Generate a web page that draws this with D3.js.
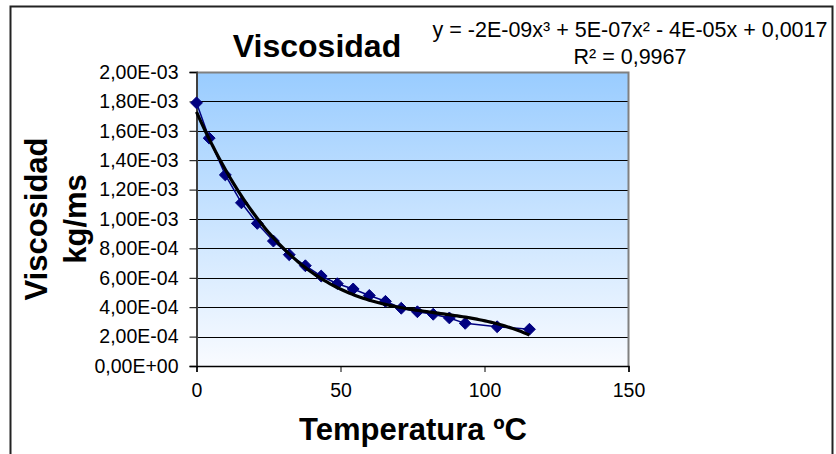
<!DOCTYPE html>
<html>
<head>
<meta charset="utf-8">
<script src="https://cdn.jsdelivr.net/npm/d3@7"></script>
<style>
  html, body { margin: 0; padding: 0; background: #fff; }
  svg { display: block; }
  text { font-family: "Liberation Sans", Arial, sans-serif; fill: #000; }
</style>
</head>
<body>
<svg id="chart" width="836" height="454"></svg>
<script>
// ---- Data ----
const temperatures = [0, 4.4, 10, 15.6, 21.1, 26.7, 32.2, 37.8, 43.3, 48.9, 54.4, 60, 65.6, 71.1, 76.7, 82.2, 87.8, 93.3, 104.4, 115.6];
const viscosity = [1.79e-3, 1.55e-3, 1.30e-3, 1.11e-3, 0.97e-3, 0.85e-3, 0.757e-3, 0.682e-3, 0.612e-3, 0.56e-3, 0.524e-3, 0.48e-3, 0.44e-3, 0.393e-3, 0.369e-3, 0.352e-3, 0.327e-3, 0.29e-3, 0.267e-3, 0.25e-3];
const xTicks = [0, 50, 100, 150];
const yTicks = [0, 0.0002, 0.0004, 0.0006, 0.0008, 0.0010, 0.0012, 0.0014, 0.0016, 0.0018, 0.0020];
const chartTitle = "Viscosidad";
const xTitle = "Temperatura ºC";
const yTitleLines = ["Viscosidad", "kg/ms"];
const equationLines = ["y = -2E-09x³ + 5E-07x² - 4E-05x + 0,0017", "R² = 0,9967"];

// ---- Layout ----
const svg = d3.select("#chart");
const plot = { left: 196.5, right: 628.5, top: 72, bottom: 366 };

svg.append("rect").attr("x", 0).attr("y", 0).attr("width", 836).attr("height", 454).attr("fill", "#fff");
// outer chart border
svg.append("rect").attr("x", 10.5).attr("y", 6.5).attr("width", 822).attr("height", 460)
  .attr("fill", "none").attr("stroke", "#222").attr("stroke-width", 2);

const x = d3.scaleLinear().domain([0, 150]).range([plot.left, plot.right]);
const y = d3.scaleLinear().domain([0, 0.002]).range([plot.bottom, plot.top]);

// gradient background
const defs = svg.append("defs");
const grad = defs.append("linearGradient").attr("id", "bg").attr("x1", 0).attr("y1", 0).attr("x2", 0).attr("y2", 1);
grad.append("stop").attr("offset", "0%").attr("stop-color", "#99ccff");
grad.append("stop").attr("offset", "100%").attr("stop-color", "#f9fbff");

svg.append("rect").attr("x", plot.left).attr("y", plot.top)
  .attr("width", plot.right - plot.left).attr("height", plot.bottom - plot.top)
  .attr("fill", "url(#bg)");

// gridlines
svg.append("g").selectAll("line").data(yTicks.filter(d => d > 0 && d < 0.002)).join("line")
  .attr("x1", plot.left).attr("x2", plot.right)
  .attr("y1", d => Math.round(y(d)) + 0.5).attr("y2", d => Math.round(y(d)) + 0.5)
  .attr("stroke", "#000").attr("stroke-width", 1);

// plot border (top & right gray)
svg.append("path")
  .attr("d", `M${plot.left},${plot.top + 0.5}H${plot.right}V${plot.bottom}`)
  .attr("fill", "none").attr("stroke", "#808080").attr("stroke-width", 2);

function sciFmt(v) {
  if (v === 0) return "0,00E+00";
  let e = Math.floor(Math.log10(v) + 1e-9);
  let m = v / Math.pow(10, e);
  if (Math.round(m * 100) / 100 >= 10) { m /= 10; e += 1; }
  const sign = e < 0 ? "-" : "+";
  const ae = Math.abs(e);
  return m.toFixed(2).replace(".", ",") + "E" + sign + (ae < 10 ? "0" + ae : ae);
}

// y axis
const yAxis = d3.axisLeft(y).tickValues(yTicks).tickFormat(sciFmt).tickSize(7).tickPadding(11);
const gy = svg.append("g").attr("transform", `translate(${plot.left},0)`).call(yAxis);
gy.select(".domain").attr("stroke", "#404040").attr("stroke-width", 2);
gy.selectAll(".tick line").attr("stroke", "#000");
gy.selectAll(".tick text").attr("font-size", 19.5).attr("font-family", "Liberation Sans, Arial, sans-serif").attr("fill", "#000");

// x axis
const xAxis = d3.axisBottom(x).tickValues(xTicks).tickFormat(d3.format("d")).tickSize(6).tickPadding(11);
const gx = svg.append("g").attr("transform", `translate(0,${plot.bottom})`).call(xAxis);
gx.select(".domain").attr("stroke", "#000").attr("stroke-width", 1.5);
gx.selectAll(".tick line").attr("stroke", "#000");
gx.selectAll(".tick text").attr("font-size", 19.5).attr("font-family", "Liberation Sans, Arial, sans-serif").attr("fill", "#000");

// series line + markers
const pts = temperatures.map((t, i) => [t, viscosity[i]]);
svg.append("path").datum(pts)
  .attr("d", d3.line().x(d => x(d[0])).y(d => y(d[1])))
  .attr("fill", "none").attr("stroke", "#000080").attr("stroke-width", 1.5);

const sym = d3.symbol().type(d3.symbolDiamond2).size(90);
svg.append("g").selectAll("path").data(pts).join("path")
  .attr("transform", d => `translate(${x(d[0])},${y(d[1])})`)
  .attr("d", sym).attr("fill", "#000080").attr("stroke", "#000080").attr("stroke-width", 1);

// cubic least squares trendline computed from data
function polyfit(xs, ys, deg) {
  const n = deg + 1;
  const A = Array.from({length: n}, () => new Array(n + 1).fill(0));
  for (let k = 0; k < xs.length; k++) {
    for (let i = 0; i < n; i++) {
      for (let j = 0; j < n; j++) A[i][j] += Math.pow(xs[k], i + j);
      A[i][n] += ys[k] * Math.pow(xs[k], i);
    }
  }
  for (let c = 0; c < n; c++) {
    let p = c;
    for (let r = c + 1; r < n; r++) if (Math.abs(A[r][c]) > Math.abs(A[p][c])) p = r;
    [A[c], A[p]] = [A[p], A[c]];
    for (let r = 0; r < n; r++) {
      if (r === c) continue;
      const f = A[r][c] / A[c][c];
      for (let j = c; j <= n; j++) A[r][j] -= f * A[c][j];
    }
  }
  return A.map((row, i) => row[n] / row[i]);
}
const coef = polyfit(temperatures, viscosity, 3);
const fx = t => coef[0] + coef[1] * t + coef[2] * t * t + coef[3] * t * t * t;
const xMin = d3.min(temperatures), xMax = d3.max(temperatures);
const trend = d3.range(0, 121).map(i => xMin + (xMax - xMin) * i / 120).map(t => [t, fx(t)]);
svg.append("path").datum(trend)
  .attr("d", d3.line().x(d => x(d[0])).y(d => y(d[1])))
  .attr("fill", "none").attr("stroke", "#000").attr("stroke-width", 3.2)
  .attr("stroke-linejoin", "round");

// titles
svg.append("text").attr("x", 317).attr("y", 57).attr("text-anchor", "middle")
  .attr("font-size", 32).attr("font-weight", "bold").text(chartTitle);
svg.append("text").attr("x", 413).attr("y", 440).attr("text-anchor", "middle")
  .attr("font-size", 31).attr("font-weight", "bold").text(xTitle);
const yTitleX = [47, 86];
yTitleLines.forEach((s, i) => {
  svg.append("text").attr("transform", `translate(${yTitleX[i]},219) rotate(-90)`)
    .attr("text-anchor", "middle").attr("font-size", 31).attr("font-weight", "bold").text(s);
});

// equation
const eqY = [37, 64];
equationLines.forEach((s, i) => {
  svg.append("text").attr("x", 630).attr("y", eqY[i]).attr("text-anchor", "middle")
    .attr("font-size", 21.5).text(s);
});
</script>
</body>
</html>
